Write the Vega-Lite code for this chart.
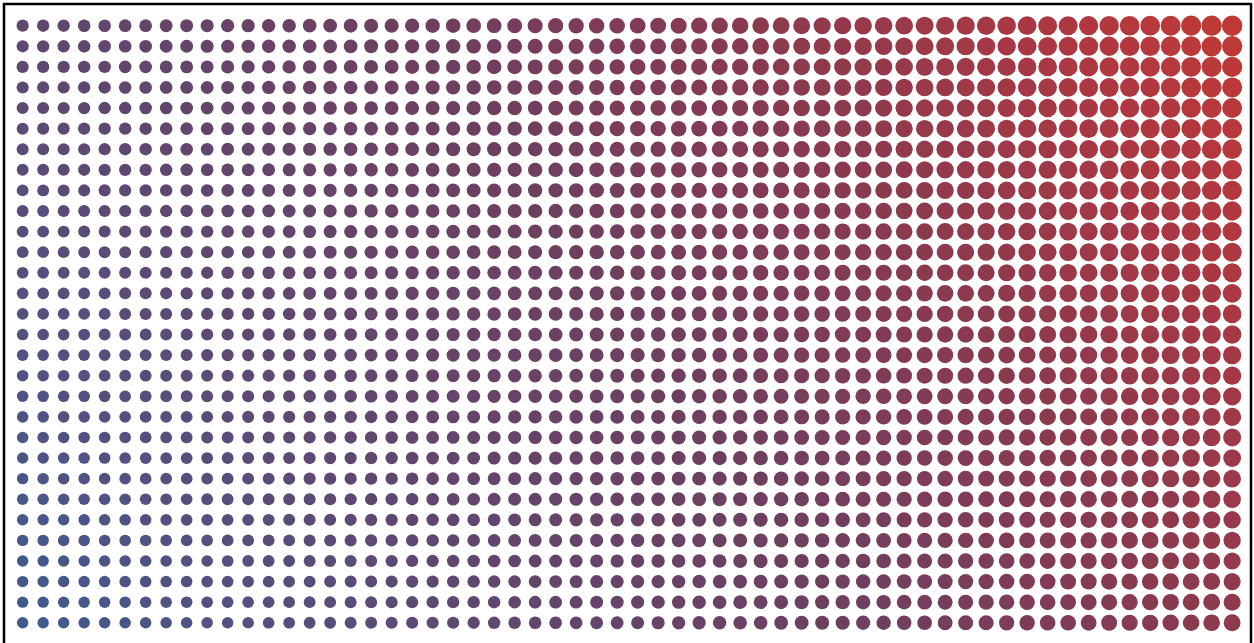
{
"$schema": "https://vega.github.io/schema/vega-lite/v6.json",
"width": 1247,
"height": 644,
"padding": {"left": 4, "top": 4, "right": 3, "bottom": 0},
"autosize": {"type": "none"},
"background": "white",
"config": {"view": {"stroke": "black", "strokeWidth": 2.5}},
"data": {"values": [
{"i":0,"j":0,"u":0},{"i":1,"j":0,"u":4},{"i":2,"j":0,"u":8},{"i":3,"j":0,"u":12},{"i":4,"j":0,"u":16},{"i":5,"j":0,"u":20},{"i":6,"j":0,"u":24},{"i":7,"j":0,"u":28},{"i":8,"j":0,"u":32},{"i":9,"j":0,"u":36},{"i":10,"j":0,"u":40},{"i":11,"j":0,"u":44},{"i":12,"j":0,"u":48},{"i":13,"j":0,"u":52},{"i":14,"j":0,"u":56},{"i":15,"j":0,"u":60},{"i":16,"j":0,"u":64},{"i":17,"j":0,"u":68},{"i":18,"j":0,"u":72},{"i":19,"j":0,"u":76},{"i":20,"j":0,"u":80},{"i":21,"j":0,"u":84},{"i":22,"j":0,"u":88},{"i":23,"j":0,"u":92},{"i":24,"j":0,"u":96},{"i":25,"j":0,"u":100},{"i":26,"j":0,"u":104},{"i":27,"j":0,"u":108},{"i":28,"j":0,"u":112},{"i":29,"j":0,"u":116},{"i":30,"j":0,"u":120},{"i":31,"j":0,"u":124},{"i":32,"j":0,"u":128},{"i":33,"j":0,"u":132},{"i":34,"j":0,"u":136},{"i":35,"j":0,"u":140},{"i":36,"j":0,"u":144},{"i":37,"j":0,"u":148},{"i":38,"j":0,"u":152},{"i":39,"j":0,"u":156},{"i":40,"j":0,"u":160},{"i":41,"j":0,"u":164},{"i":42,"j":0,"u":168},{"i":43,"j":0,"u":172},{"i":44,"j":0,"u":176},{"i":45,"j":0,"u":180},{"i":46,"j":0,"u":184},{"i":47,"j":0,"u":188},{"i":48,"j":0,"u":192},{"i":49,"j":0,"u":196},{"i":50,"j":0,"u":200},{"i":51,"j":0,"u":204},{"i":52,"j":0,"u":208},{"i":53,"j":0,"u":212},{"i":54,"j":0,"u":216},{"i":55,"j":0,"u":220},{"i":56,"j":0,"u":224},{"i":57,"j":0,"u":228},{"i":58,"j":0,"u":232},{"i":59,"j":0,"u":236},
{"i":0,"j":1,"u":3},{"i":1,"j":1,"u":7},{"i":2,"j":1,"u":11},{"i":3,"j":1,"u":15},{"i":4,"j":1,"u":19},{"i":5,"j":1,"u":23},{"i":6,"j":1,"u":27},{"i":7,"j":1,"u":31},{"i":8,"j":1,"u":35},{"i":9,"j":1,"u":39},{"i":10,"j":1,"u":43},{"i":11,"j":1,"u":47},{"i":12,"j":1,"u":51},{"i":13,"j":1,"u":55},{"i":14,"j":1,"u":59},{"i":15,"j":1,"u":63},{"i":16,"j":1,"u":67},{"i":17,"j":1,"u":71},{"i":18,"j":1,"u":75},{"i":19,"j":1,"u":79},{"i":20,"j":1,"u":83},{"i":21,"j":1,"u":87},{"i":22,"j":1,"u":91},{"i":23,"j":1,"u":95},{"i":24,"j":1,"u":99},{"i":25,"j":1,"u":103},{"i":26,"j":1,"u":107},{"i":27,"j":1,"u":111},{"i":28,"j":1,"u":115},{"i":29,"j":1,"u":119},{"i":30,"j":1,"u":123},{"i":31,"j":1,"u":127},{"i":32,"j":1,"u":131},{"i":33,"j":1,"u":135},{"i":34,"j":1,"u":139},{"i":35,"j":1,"u":143},{"i":36,"j":1,"u":147},{"i":37,"j":1,"u":151},{"i":38,"j":1,"u":155},{"i":39,"j":1,"u":159},{"i":40,"j":1,"u":163},{"i":41,"j":1,"u":167},{"i":42,"j":1,"u":171},{"i":43,"j":1,"u":175},{"i":44,"j":1,"u":179},{"i":45,"j":1,"u":183},{"i":46,"j":1,"u":187},{"i":47,"j":1,"u":191},{"i":48,"j":1,"u":195},{"i":49,"j":1,"u":199},{"i":50,"j":1,"u":203},{"i":51,"j":1,"u":207},{"i":52,"j":1,"u":211},{"i":53,"j":1,"u":215},{"i":54,"j":1,"u":219},{"i":55,"j":1,"u":223},{"i":56,"j":1,"u":227},{"i":57,"j":1,"u":231},{"i":58,"j":1,"u":235},{"i":59,"j":1,"u":239},
{"i":0,"j":2,"u":6},{"i":1,"j":2,"u":10},{"i":2,"j":2,"u":14},{"i":3,"j":2,"u":18},{"i":4,"j":2,"u":22},{"i":5,"j":2,"u":26},{"i":6,"j":2,"u":30},{"i":7,"j":2,"u":34},{"i":8,"j":2,"u":38},{"i":9,"j":2,"u":42},{"i":10,"j":2,"u":46},{"i":11,"j":2,"u":50},{"i":12,"j":2,"u":54},{"i":13,"j":2,"u":58},{"i":14,"j":2,"u":62},{"i":15,"j":2,"u":66},{"i":16,"j":2,"u":70},{"i":17,"j":2,"u":74},{"i":18,"j":2,"u":78},{"i":19,"j":2,"u":82},{"i":20,"j":2,"u":86},{"i":21,"j":2,"u":90},{"i":22,"j":2,"u":94},{"i":23,"j":2,"u":98},{"i":24,"j":2,"u":102},{"i":25,"j":2,"u":106},{"i":26,"j":2,"u":110},{"i":27,"j":2,"u":114},{"i":28,"j":2,"u":118},{"i":29,"j":2,"u":122},{"i":30,"j":2,"u":126},{"i":31,"j":2,"u":130},{"i":32,"j":2,"u":134},{"i":33,"j":2,"u":138},{"i":34,"j":2,"u":142},{"i":35,"j":2,"u":146},{"i":36,"j":2,"u":150},{"i":37,"j":2,"u":154},{"i":38,"j":2,"u":158},{"i":39,"j":2,"u":162},{"i":40,"j":2,"u":166},{"i":41,"j":2,"u":170},{"i":42,"j":2,"u":174},{"i":43,"j":2,"u":178},{"i":44,"j":2,"u":182},{"i":45,"j":2,"u":186},{"i":46,"j":2,"u":190},{"i":47,"j":2,"u":194},{"i":48,"j":2,"u":198},{"i":49,"j":2,"u":202},{"i":50,"j":2,"u":206},{"i":51,"j":2,"u":210},{"i":52,"j":2,"u":214},{"i":53,"j":2,"u":218},{"i":54,"j":2,"u":222},{"i":55,"j":2,"u":226},{"i":56,"j":2,"u":230},{"i":57,"j":2,"u":234},{"i":58,"j":2,"u":238},{"i":59,"j":2,"u":242},
{"i":0,"j":3,"u":9},{"i":1,"j":3,"u":13},{"i":2,"j":3,"u":17},{"i":3,"j":3,"u":21},{"i":4,"j":3,"u":25},{"i":5,"j":3,"u":29},{"i":6,"j":3,"u":33},{"i":7,"j":3,"u":37},{"i":8,"j":3,"u":41},{"i":9,"j":3,"u":45},{"i":10,"j":3,"u":49},{"i":11,"j":3,"u":53},{"i":12,"j":3,"u":57},{"i":13,"j":3,"u":61},{"i":14,"j":3,"u":65},{"i":15,"j":3,"u":69},{"i":16,"j":3,"u":73},{"i":17,"j":3,"u":77},{"i":18,"j":3,"u":81},{"i":19,"j":3,"u":85},{"i":20,"j":3,"u":89},{"i":21,"j":3,"u":93},{"i":22,"j":3,"u":97},{"i":23,"j":3,"u":101},{"i":24,"j":3,"u":105},{"i":25,"j":3,"u":109},{"i":26,"j":3,"u":113},{"i":27,"j":3,"u":117},{"i":28,"j":3,"u":121},{"i":29,"j":3,"u":125},{"i":30,"j":3,"u":129},{"i":31,"j":3,"u":133},{"i":32,"j":3,"u":137},{"i":33,"j":3,"u":141},{"i":34,"j":3,"u":145},{"i":35,"j":3,"u":149},{"i":36,"j":3,"u":153},{"i":37,"j":3,"u":157},{"i":38,"j":3,"u":161},{"i":39,"j":3,"u":165},{"i":40,"j":3,"u":169},{"i":41,"j":3,"u":173},{"i":42,"j":3,"u":177},{"i":43,"j":3,"u":181},{"i":44,"j":3,"u":185},{"i":45,"j":3,"u":189},{"i":46,"j":3,"u":193},{"i":47,"j":3,"u":197},{"i":48,"j":3,"u":201},{"i":49,"j":3,"u":205},{"i":50,"j":3,"u":209},{"i":51,"j":3,"u":213},{"i":52,"j":3,"u":217},{"i":53,"j":3,"u":221},{"i":54,"j":3,"u":225},{"i":55,"j":3,"u":229},{"i":56,"j":3,"u":233},{"i":57,"j":3,"u":237},{"i":58,"j":3,"u":241},{"i":59,"j":3,"u":245},
{"i":0,"j":4,"u":12},{"i":1,"j":4,"u":16},{"i":2,"j":4,"u":20},{"i":3,"j":4,"u":24},{"i":4,"j":4,"u":28},{"i":5,"j":4,"u":32},{"i":6,"j":4,"u":36},{"i":7,"j":4,"u":40},{"i":8,"j":4,"u":44},{"i":9,"j":4,"u":48},{"i":10,"j":4,"u":52},{"i":11,"j":4,"u":56},{"i":12,"j":4,"u":60},{"i":13,"j":4,"u":64},{"i":14,"j":4,"u":68},{"i":15,"j":4,"u":72},{"i":16,"j":4,"u":76},{"i":17,"j":4,"u":80},{"i":18,"j":4,"u":84},{"i":19,"j":4,"u":88},{"i":20,"j":4,"u":92},{"i":21,"j":4,"u":96},{"i":22,"j":4,"u":100},{"i":23,"j":4,"u":104},{"i":24,"j":4,"u":108},{"i":25,"j":4,"u":112},{"i":26,"j":4,"u":116},{"i":27,"j":4,"u":120},{"i":28,"j":4,"u":124},{"i":29,"j":4,"u":128},{"i":30,"j":4,"u":132},{"i":31,"j":4,"u":136},{"i":32,"j":4,"u":140},{"i":33,"j":4,"u":144},{"i":34,"j":4,"u":148},{"i":35,"j":4,"u":152},{"i":36,"j":4,"u":156},{"i":37,"j":4,"u":160},{"i":38,"j":4,"u":164},{"i":39,"j":4,"u":168},{"i":40,"j":4,"u":172},{"i":41,"j":4,"u":176},{"i":42,"j":4,"u":180},{"i":43,"j":4,"u":184},{"i":44,"j":4,"u":188},{"i":45,"j":4,"u":192},{"i":46,"j":4,"u":196},{"i":47,"j":4,"u":200},{"i":48,"j":4,"u":204},{"i":49,"j":4,"u":208},{"i":50,"j":4,"u":212},{"i":51,"j":4,"u":216},{"i":52,"j":4,"u":220},{"i":53,"j":4,"u":224},{"i":54,"j":4,"u":228},{"i":55,"j":4,"u":232},{"i":56,"j":4,"u":236},{"i":57,"j":4,"u":240},{"i":58,"j":4,"u":244},{"i":59,"j":4,"u":248},
{"i":0,"j":5,"u":15},{"i":1,"j":5,"u":19},{"i":2,"j":5,"u":23},{"i":3,"j":5,"u":27},{"i":4,"j":5,"u":31},{"i":5,"j":5,"u":35},{"i":6,"j":5,"u":39},{"i":7,"j":5,"u":43},{"i":8,"j":5,"u":47},{"i":9,"j":5,"u":51},{"i":10,"j":5,"u":55},{"i":11,"j":5,"u":59},{"i":12,"j":5,"u":63},{"i":13,"j":5,"u":67},{"i":14,"j":5,"u":71},{"i":15,"j":5,"u":75},{"i":16,"j":5,"u":79},{"i":17,"j":5,"u":83},{"i":18,"j":5,"u":87},{"i":19,"j":5,"u":91},{"i":20,"j":5,"u":95},{"i":21,"j":5,"u":99},{"i":22,"j":5,"u":103},{"i":23,"j":5,"u":107},{"i":24,"j":5,"u":111},{"i":25,"j":5,"u":115},{"i":26,"j":5,"u":119},{"i":27,"j":5,"u":123},{"i":28,"j":5,"u":127},{"i":29,"j":5,"u":131},{"i":30,"j":5,"u":135},{"i":31,"j":5,"u":139},{"i":32,"j":5,"u":143},{"i":33,"j":5,"u":147},{"i":34,"j":5,"u":151},{"i":35,"j":5,"u":155},{"i":36,"j":5,"u":159},{"i":37,"j":5,"u":163},{"i":38,"j":5,"u":167},{"i":39,"j":5,"u":171},{"i":40,"j":5,"u":175},{"i":41,"j":5,"u":179},{"i":42,"j":5,"u":183},{"i":43,"j":5,"u":187},{"i":44,"j":5,"u":191},{"i":45,"j":5,"u":195},{"i":46,"j":5,"u":199},{"i":47,"j":5,"u":203},{"i":48,"j":5,"u":207},{"i":49,"j":5,"u":211},{"i":50,"j":5,"u":215},{"i":51,"j":5,"u":219},{"i":52,"j":5,"u":223},{"i":53,"j":5,"u":227},{"i":54,"j":5,"u":231},{"i":55,"j":5,"u":235},{"i":56,"j":5,"u":239},{"i":57,"j":5,"u":243},{"i":58,"j":5,"u":247},{"i":59,"j":5,"u":251},
{"i":0,"j":6,"u":18},{"i":1,"j":6,"u":22},{"i":2,"j":6,"u":26},{"i":3,"j":6,"u":30},{"i":4,"j":6,"u":34},{"i":5,"j":6,"u":38},{"i":6,"j":6,"u":42},{"i":7,"j":6,"u":46},{"i":8,"j":6,"u":50},{"i":9,"j":6,"u":54},{"i":10,"j":6,"u":58},{"i":11,"j":6,"u":62},{"i":12,"j":6,"u":66},{"i":13,"j":6,"u":70},{"i":14,"j":6,"u":74},{"i":15,"j":6,"u":78},{"i":16,"j":6,"u":82},{"i":17,"j":6,"u":86},{"i":18,"j":6,"u":90},{"i":19,"j":6,"u":94},{"i":20,"j":6,"u":98},{"i":21,"j":6,"u":102},{"i":22,"j":6,"u":106},{"i":23,"j":6,"u":110},{"i":24,"j":6,"u":114},{"i":25,"j":6,"u":118},{"i":26,"j":6,"u":122},{"i":27,"j":6,"u":126},{"i":28,"j":6,"u":130},{"i":29,"j":6,"u":134},{"i":30,"j":6,"u":138},{"i":31,"j":6,"u":142},{"i":32,"j":6,"u":146},{"i":33,"j":6,"u":150},{"i":34,"j":6,"u":154},{"i":35,"j":6,"u":158},{"i":36,"j":6,"u":162},{"i":37,"j":6,"u":166},{"i":38,"j":6,"u":170},{"i":39,"j":6,"u":174},{"i":40,"j":6,"u":178},{"i":41,"j":6,"u":182},{"i":42,"j":6,"u":186},{"i":43,"j":6,"u":190},{"i":44,"j":6,"u":194},{"i":45,"j":6,"u":198},{"i":46,"j":6,"u":202},{"i":47,"j":6,"u":206},{"i":48,"j":6,"u":210},{"i":49,"j":6,"u":214},{"i":50,"j":6,"u":218},{"i":51,"j":6,"u":222},{"i":52,"j":6,"u":226},{"i":53,"j":6,"u":230},{"i":54,"j":6,"u":234},{"i":55,"j":6,"u":238},{"i":56,"j":6,"u":242},{"i":57,"j":6,"u":246},{"i":58,"j":6,"u":250},{"i":59,"j":6,"u":254},
{"i":0,"j":7,"u":21},{"i":1,"j":7,"u":25},{"i":2,"j":7,"u":29},{"i":3,"j":7,"u":33},{"i":4,"j":7,"u":37},{"i":5,"j":7,"u":41},{"i":6,"j":7,"u":45},{"i":7,"j":7,"u":49},{"i":8,"j":7,"u":53},{"i":9,"j":7,"u":57},{"i":10,"j":7,"u":61},{"i":11,"j":7,"u":65},{"i":12,"j":7,"u":69},{"i":13,"j":7,"u":73},{"i":14,"j":7,"u":77},{"i":15,"j":7,"u":81},{"i":16,"j":7,"u":85},{"i":17,"j":7,"u":89},{"i":18,"j":7,"u":93},{"i":19,"j":7,"u":97},{"i":20,"j":7,"u":101},{"i":21,"j":7,"u":105},{"i":22,"j":7,"u":109},{"i":23,"j":7,"u":113},{"i":24,"j":7,"u":117},{"i":25,"j":7,"u":121},{"i":26,"j":7,"u":125},{"i":27,"j":7,"u":129},{"i":28,"j":7,"u":133},{"i":29,"j":7,"u":137},{"i":30,"j":7,"u":141},{"i":31,"j":7,"u":145},{"i":32,"j":7,"u":149},{"i":33,"j":7,"u":153},{"i":34,"j":7,"u":157},{"i":35,"j":7,"u":161},{"i":36,"j":7,"u":165},{"i":37,"j":7,"u":169},{"i":38,"j":7,"u":173},{"i":39,"j":7,"u":177},{"i":40,"j":7,"u":181},{"i":41,"j":7,"u":185},{"i":42,"j":7,"u":189},{"i":43,"j":7,"u":193},{"i":44,"j":7,"u":197},{"i":45,"j":7,"u":201},{"i":46,"j":7,"u":205},{"i":47,"j":7,"u":209},{"i":48,"j":7,"u":213},{"i":49,"j":7,"u":217},{"i":50,"j":7,"u":221},{"i":51,"j":7,"u":225},{"i":52,"j":7,"u":229},{"i":53,"j":7,"u":233},{"i":54,"j":7,"u":237},{"i":55,"j":7,"u":241},{"i":56,"j":7,"u":245},{"i":57,"j":7,"u":249},{"i":58,"j":7,"u":253},{"i":59,"j":7,"u":257},
{"i":0,"j":8,"u":24},{"i":1,"j":8,"u":28},{"i":2,"j":8,"u":32},{"i":3,"j":8,"u":36},{"i":4,"j":8,"u":40},{"i":5,"j":8,"u":44},{"i":6,"j":8,"u":48},{"i":7,"j":8,"u":52},{"i":8,"j":8,"u":56},{"i":9,"j":8,"u":60},{"i":10,"j":8,"u":64},{"i":11,"j":8,"u":68},{"i":12,"j":8,"u":72},{"i":13,"j":8,"u":76},{"i":14,"j":8,"u":80},{"i":15,"j":8,"u":84},{"i":16,"j":8,"u":88},{"i":17,"j":8,"u":92},{"i":18,"j":8,"u":96},{"i":19,"j":8,"u":100},{"i":20,"j":8,"u":104},{"i":21,"j":8,"u":108},{"i":22,"j":8,"u":112},{"i":23,"j":8,"u":116},{"i":24,"j":8,"u":120},{"i":25,"j":8,"u":124},{"i":26,"j":8,"u":128},{"i":27,"j":8,"u":132},{"i":28,"j":8,"u":136},{"i":29,"j":8,"u":140},{"i":30,"j":8,"u":144},{"i":31,"j":8,"u":148},{"i":32,"j":8,"u":152},{"i":33,"j":8,"u":156},{"i":34,"j":8,"u":160},{"i":35,"j":8,"u":164},{"i":36,"j":8,"u":168},{"i":37,"j":8,"u":172},{"i":38,"j":8,"u":176},{"i":39,"j":8,"u":180},{"i":40,"j":8,"u":184},{"i":41,"j":8,"u":188},{"i":42,"j":8,"u":192},{"i":43,"j":8,"u":196},{"i":44,"j":8,"u":200},{"i":45,"j":8,"u":204},{"i":46,"j":8,"u":208},{"i":47,"j":8,"u":212},{"i":48,"j":8,"u":216},{"i":49,"j":8,"u":220},{"i":50,"j":8,"u":224},{"i":51,"j":8,"u":228},{"i":52,"j":8,"u":232},{"i":53,"j":8,"u":236},{"i":54,"j":8,"u":240},{"i":55,"j":8,"u":244},{"i":56,"j":8,"u":248},{"i":57,"j":8,"u":252},{"i":58,"j":8,"u":256},{"i":59,"j":8,"u":260},
{"i":0,"j":9,"u":27},{"i":1,"j":9,"u":31},{"i":2,"j":9,"u":35},{"i":3,"j":9,"u":39},{"i":4,"j":9,"u":43},{"i":5,"j":9,"u":47},{"i":6,"j":9,"u":51},{"i":7,"j":9,"u":55},{"i":8,"j":9,"u":59},{"i":9,"j":9,"u":63},{"i":10,"j":9,"u":67},{"i":11,"j":9,"u":71},{"i":12,"j":9,"u":75},{"i":13,"j":9,"u":79},{"i":14,"j":9,"u":83},{"i":15,"j":9,"u":87},{"i":16,"j":9,"u":91},{"i":17,"j":9,"u":95},{"i":18,"j":9,"u":99},{"i":19,"j":9,"u":103},{"i":20,"j":9,"u":107},{"i":21,"j":9,"u":111},{"i":22,"j":9,"u":115},{"i":23,"j":9,"u":119},{"i":24,"j":9,"u":123},{"i":25,"j":9,"u":127},{"i":26,"j":9,"u":131},{"i":27,"j":9,"u":135},{"i":28,"j":9,"u":139},{"i":29,"j":9,"u":143},{"i":30,"j":9,"u":147},{"i":31,"j":9,"u":151},{"i":32,"j":9,"u":155},{"i":33,"j":9,"u":159},{"i":34,"j":9,"u":163},{"i":35,"j":9,"u":167},{"i":36,"j":9,"u":171},{"i":37,"j":9,"u":175},{"i":38,"j":9,"u":179},{"i":39,"j":9,"u":183},{"i":40,"j":9,"u":187},{"i":41,"j":9,"u":191},{"i":42,"j":9,"u":195},{"i":43,"j":9,"u":199},{"i":44,"j":9,"u":203},{"i":45,"j":9,"u":207},{"i":46,"j":9,"u":211},{"i":47,"j":9,"u":215},{"i":48,"j":9,"u":219},{"i":49,"j":9,"u":223},{"i":50,"j":9,"u":227},{"i":51,"j":9,"u":231},{"i":52,"j":9,"u":235},{"i":53,"j":9,"u":239},{"i":54,"j":9,"u":243},{"i":55,"j":9,"u":247},{"i":56,"j":9,"u":251},{"i":57,"j":9,"u":255},{"i":58,"j":9,"u":259},{"i":59,"j":9,"u":263},
{"i":0,"j":10,"u":30},{"i":1,"j":10,"u":34},{"i":2,"j":10,"u":38},{"i":3,"j":10,"u":42},{"i":4,"j":10,"u":46},{"i":5,"j":10,"u":50},{"i":6,"j":10,"u":54},{"i":7,"j":10,"u":58},{"i":8,"j":10,"u":62},{"i":9,"j":10,"u":66},{"i":10,"j":10,"u":70},{"i":11,"j":10,"u":74},{"i":12,"j":10,"u":78},{"i":13,"j":10,"u":82},{"i":14,"j":10,"u":86},{"i":15,"j":10,"u":90},{"i":16,"j":10,"u":94},{"i":17,"j":10,"u":98},{"i":18,"j":10,"u":102},{"i":19,"j":10,"u":106},{"i":20,"j":10,"u":110},{"i":21,"j":10,"u":114},{"i":22,"j":10,"u":118},{"i":23,"j":10,"u":122},{"i":24,"j":10,"u":126},{"i":25,"j":10,"u":130},{"i":26,"j":10,"u":134},{"i":27,"j":10,"u":138},{"i":28,"j":10,"u":142},{"i":29,"j":10,"u":146},{"i":30,"j":10,"u":150},{"i":31,"j":10,"u":154},{"i":32,"j":10,"u":158},{"i":33,"j":10,"u":162},{"i":34,"j":10,"u":166},{"i":35,"j":10,"u":170},{"i":36,"j":10,"u":174},{"i":37,"j":10,"u":178},{"i":38,"j":10,"u":182},{"i":39,"j":10,"u":186},{"i":40,"j":10,"u":190},{"i":41,"j":10,"u":194},{"i":42,"j":10,"u":198},{"i":43,"j":10,"u":202},{"i":44,"j":10,"u":206},{"i":45,"j":10,"u":210},{"i":46,"j":10,"u":214},{"i":47,"j":10,"u":218},{"i":48,"j":10,"u":222},{"i":49,"j":10,"u":226},{"i":50,"j":10,"u":230},{"i":51,"j":10,"u":234},{"i":52,"j":10,"u":238},{"i":53,"j":10,"u":242},{"i":54,"j":10,"u":246},{"i":55,"j":10,"u":250},{"i":56,"j":10,"u":254},{"i":57,"j":10,"u":258},{"i":58,"j":10,"u":262},{"i":59,"j":10,"u":266},
{"i":0,"j":11,"u":33},{"i":1,"j":11,"u":37},{"i":2,"j":11,"u":41},{"i":3,"j":11,"u":45},{"i":4,"j":11,"u":49},{"i":5,"j":11,"u":53},{"i":6,"j":11,"u":57},{"i":7,"j":11,"u":61},{"i":8,"j":11,"u":65},{"i":9,"j":11,"u":69},{"i":10,"j":11,"u":73},{"i":11,"j":11,"u":77},{"i":12,"j":11,"u":81},{"i":13,"j":11,"u":85},{"i":14,"j":11,"u":89},{"i":15,"j":11,"u":93},{"i":16,"j":11,"u":97},{"i":17,"j":11,"u":101},{"i":18,"j":11,"u":105},{"i":19,"j":11,"u":109},{"i":20,"j":11,"u":113},{"i":21,"j":11,"u":117},{"i":22,"j":11,"u":121},{"i":23,"j":11,"u":125},{"i":24,"j":11,"u":129},{"i":25,"j":11,"u":133},{"i":26,"j":11,"u":137},{"i":27,"j":11,"u":141},{"i":28,"j":11,"u":145},{"i":29,"j":11,"u":149},{"i":30,"j":11,"u":153},{"i":31,"j":11,"u":157},{"i":32,"j":11,"u":161},{"i":33,"j":11,"u":165},{"i":34,"j":11,"u":169},{"i":35,"j":11,"u":173},{"i":36,"j":11,"u":177},{"i":37,"j":11,"u":181},{"i":38,"j":11,"u":185},{"i":39,"j":11,"u":189},{"i":40,"j":11,"u":193},{"i":41,"j":11,"u":197},{"i":42,"j":11,"u":201},{"i":43,"j":11,"u":205},{"i":44,"j":11,"u":209},{"i":45,"j":11,"u":213},{"i":46,"j":11,"u":217},{"i":47,"j":11,"u":221},{"i":48,"j":11,"u":225},{"i":49,"j":11,"u":229},{"i":50,"j":11,"u":233},{"i":51,"j":11,"u":237},{"i":52,"j":11,"u":241},{"i":53,"j":11,"u":245},{"i":54,"j":11,"u":249},{"i":55,"j":11,"u":253},{"i":56,"j":11,"u":257},{"i":57,"j":11,"u":261},{"i":58,"j":11,"u":265},{"i":59,"j":11,"u":269},
{"i":0,"j":12,"u":36},{"i":1,"j":12,"u":40},{"i":2,"j":12,"u":44},{"i":3,"j":12,"u":48},{"i":4,"j":12,"u":52},{"i":5,"j":12,"u":56},{"i":6,"j":12,"u":60},{"i":7,"j":12,"u":64},{"i":8,"j":12,"u":68},{"i":9,"j":12,"u":72},{"i":10,"j":12,"u":76},{"i":11,"j":12,"u":80},{"i":12,"j":12,"u":84},{"i":13,"j":12,"u":88},{"i":14,"j":12,"u":92},{"i":15,"j":12,"u":96},{"i":16,"j":12,"u":100},{"i":17,"j":12,"u":104},{"i":18,"j":12,"u":108},{"i":19,"j":12,"u":112},{"i":20,"j":12,"u":116},{"i":21,"j":12,"u":120},{"i":22,"j":12,"u":124},{"i":23,"j":12,"u":128},{"i":24,"j":12,"u":132},{"i":25,"j":12,"u":136},{"i":26,"j":12,"u":140},{"i":27,"j":12,"u":144},{"i":28,"j":12,"u":148},{"i":29,"j":12,"u":152},{"i":30,"j":12,"u":156},{"i":31,"j":12,"u":160},{"i":32,"j":12,"u":164},{"i":33,"j":12,"u":168},{"i":34,"j":12,"u":172},{"i":35,"j":12,"u":176},{"i":36,"j":12,"u":180},{"i":37,"j":12,"u":184},{"i":38,"j":12,"u":188},{"i":39,"j":12,"u":192},{"i":40,"j":12,"u":196},{"i":41,"j":12,"u":200},{"i":42,"j":12,"u":204},{"i":43,"j":12,"u":208},{"i":44,"j":12,"u":212},{"i":45,"j":12,"u":216},{"i":46,"j":12,"u":220},{"i":47,"j":12,"u":224},{"i":48,"j":12,"u":228},{"i":49,"j":12,"u":232},{"i":50,"j":12,"u":236},{"i":51,"j":12,"u":240},{"i":52,"j":12,"u":244},{"i":53,"j":12,"u":248},{"i":54,"j":12,"u":252},{"i":55,"j":12,"u":256},{"i":56,"j":12,"u":260},{"i":57,"j":12,"u":264},{"i":58,"j":12,"u":268},{"i":59,"j":12,"u":272},
{"i":0,"j":13,"u":39},{"i":1,"j":13,"u":43},{"i":2,"j":13,"u":47},{"i":3,"j":13,"u":51},{"i":4,"j":13,"u":55},{"i":5,"j":13,"u":59},{"i":6,"j":13,"u":63},{"i":7,"j":13,"u":67},{"i":8,"j":13,"u":71},{"i":9,"j":13,"u":75},{"i":10,"j":13,"u":79},{"i":11,"j":13,"u":83},{"i":12,"j":13,"u":87},{"i":13,"j":13,"u":91},{"i":14,"j":13,"u":95},{"i":15,"j":13,"u":99},{"i":16,"j":13,"u":103},{"i":17,"j":13,"u":107},{"i":18,"j":13,"u":111},{"i":19,"j":13,"u":115},{"i":20,"j":13,"u":119},{"i":21,"j":13,"u":123},{"i":22,"j":13,"u":127},{"i":23,"j":13,"u":131},{"i":24,"j":13,"u":135},{"i":25,"j":13,"u":139},{"i":26,"j":13,"u":143},{"i":27,"j":13,"u":147},{"i":28,"j":13,"u":151},{"i":29,"j":13,"u":155},{"i":30,"j":13,"u":159},{"i":31,"j":13,"u":163},{"i":32,"j":13,"u":167},{"i":33,"j":13,"u":171},{"i":34,"j":13,"u":175},{"i":35,"j":13,"u":179},{"i":36,"j":13,"u":183},{"i":37,"j":13,"u":187},{"i":38,"j":13,"u":191},{"i":39,"j":13,"u":195},{"i":40,"j":13,"u":199},{"i":41,"j":13,"u":203},{"i":42,"j":13,"u":207},{"i":43,"j":13,"u":211},{"i":44,"j":13,"u":215},{"i":45,"j":13,"u":219},{"i":46,"j":13,"u":223},{"i":47,"j":13,"u":227},{"i":48,"j":13,"u":231},{"i":49,"j":13,"u":235},{"i":50,"j":13,"u":239},{"i":51,"j":13,"u":243},{"i":52,"j":13,"u":247},{"i":53,"j":13,"u":251},{"i":54,"j":13,"u":255},{"i":55,"j":13,"u":259},{"i":56,"j":13,"u":263},{"i":57,"j":13,"u":267},{"i":58,"j":13,"u":271},{"i":59,"j":13,"u":275},
{"i":0,"j":14,"u":42},{"i":1,"j":14,"u":46},{"i":2,"j":14,"u":50},{"i":3,"j":14,"u":54},{"i":4,"j":14,"u":58},{"i":5,"j":14,"u":62},{"i":6,"j":14,"u":66},{"i":7,"j":14,"u":70},{"i":8,"j":14,"u":74},{"i":9,"j":14,"u":78},{"i":10,"j":14,"u":82},{"i":11,"j":14,"u":86},{"i":12,"j":14,"u":90},{"i":13,"j":14,"u":94},{"i":14,"j":14,"u":98},{"i":15,"j":14,"u":102},{"i":16,"j":14,"u":106},{"i":17,"j":14,"u":110},{"i":18,"j":14,"u":114},{"i":19,"j":14,"u":118},{"i":20,"j":14,"u":122},{"i":21,"j":14,"u":126},{"i":22,"j":14,"u":130},{"i":23,"j":14,"u":134},{"i":24,"j":14,"u":138},{"i":25,"j":14,"u":142},{"i":26,"j":14,"u":146},{"i":27,"j":14,"u":150},{"i":28,"j":14,"u":154},{"i":29,"j":14,"u":158},{"i":30,"j":14,"u":162},{"i":31,"j":14,"u":166},{"i":32,"j":14,"u":170},{"i":33,"j":14,"u":174},{"i":34,"j":14,"u":178},{"i":35,"j":14,"u":182},{"i":36,"j":14,"u":186},{"i":37,"j":14,"u":190},{"i":38,"j":14,"u":194},{"i":39,"j":14,"u":198},{"i":40,"j":14,"u":202},{"i":41,"j":14,"u":206},{"i":42,"j":14,"u":210},{"i":43,"j":14,"u":214},{"i":44,"j":14,"u":218},{"i":45,"j":14,"u":222},{"i":46,"j":14,"u":226},{"i":47,"j":14,"u":230},{"i":48,"j":14,"u":234},{"i":49,"j":14,"u":238},{"i":50,"j":14,"u":242},{"i":51,"j":14,"u":246},{"i":52,"j":14,"u":250},{"i":53,"j":14,"u":254},{"i":54,"j":14,"u":258},{"i":55,"j":14,"u":262},{"i":56,"j":14,"u":266},{"i":57,"j":14,"u":270},{"i":58,"j":14,"u":274},{"i":59,"j":14,"u":278},
{"i":0,"j":15,"u":45},{"i":1,"j":15,"u":49},{"i":2,"j":15,"u":53},{"i":3,"j":15,"u":57},{"i":4,"j":15,"u":61},{"i":5,"j":15,"u":65},{"i":6,"j":15,"u":69},{"i":7,"j":15,"u":73},{"i":8,"j":15,"u":77},{"i":9,"j":15,"u":81},{"i":10,"j":15,"u":85},{"i":11,"j":15,"u":89},{"i":12,"j":15,"u":93},{"i":13,"j":15,"u":97},{"i":14,"j":15,"u":101},{"i":15,"j":15,"u":105},{"i":16,"j":15,"u":109},{"i":17,"j":15,"u":113},{"i":18,"j":15,"u":117},{"i":19,"j":15,"u":121},{"i":20,"j":15,"u":125},{"i":21,"j":15,"u":129},{"i":22,"j":15,"u":133},{"i":23,"j":15,"u":137},{"i":24,"j":15,"u":141},{"i":25,"j":15,"u":145},{"i":26,"j":15,"u":149},{"i":27,"j":15,"u":153},{"i":28,"j":15,"u":157},{"i":29,"j":15,"u":161},{"i":30,"j":15,"u":165},{"i":31,"j":15,"u":169},{"i":32,"j":15,"u":173},{"i":33,"j":15,"u":177},{"i":34,"j":15,"u":181},{"i":35,"j":15,"u":185},{"i":36,"j":15,"u":189},{"i":37,"j":15,"u":193},{"i":38,"j":15,"u":197},{"i":39,"j":15,"u":201},{"i":40,"j":15,"u":205},{"i":41,"j":15,"u":209},{"i":42,"j":15,"u":213},{"i":43,"j":15,"u":217},{"i":44,"j":15,"u":221},{"i":45,"j":15,"u":225},{"i":46,"j":15,"u":229},{"i":47,"j":15,"u":233},{"i":48,"j":15,"u":237},{"i":49,"j":15,"u":241},{"i":50,"j":15,"u":245},{"i":51,"j":15,"u":249},{"i":52,"j":15,"u":253},{"i":53,"j":15,"u":257},{"i":54,"j":15,"u":261},{"i":55,"j":15,"u":265},{"i":56,"j":15,"u":269},{"i":57,"j":15,"u":273},{"i":58,"j":15,"u":277},{"i":59,"j":15,"u":281},
{"i":0,"j":16,"u":48},{"i":1,"j":16,"u":52},{"i":2,"j":16,"u":56},{"i":3,"j":16,"u":60},{"i":4,"j":16,"u":64},{"i":5,"j":16,"u":68},{"i":6,"j":16,"u":72},{"i":7,"j":16,"u":76},{"i":8,"j":16,"u":80},{"i":9,"j":16,"u":84},{"i":10,"j":16,"u":88},{"i":11,"j":16,"u":92},{"i":12,"j":16,"u":96},{"i":13,"j":16,"u":100},{"i":14,"j":16,"u":104},{"i":15,"j":16,"u":108},{"i":16,"j":16,"u":112},{"i":17,"j":16,"u":116},{"i":18,"j":16,"u":120},{"i":19,"j":16,"u":124},{"i":20,"j":16,"u":128},{"i":21,"j":16,"u":132},{"i":22,"j":16,"u":136},{"i":23,"j":16,"u":140},{"i":24,"j":16,"u":144},{"i":25,"j":16,"u":148},{"i":26,"j":16,"u":152},{"i":27,"j":16,"u":156},{"i":28,"j":16,"u":160},{"i":29,"j":16,"u":164},{"i":30,"j":16,"u":168},{"i":31,"j":16,"u":172},{"i":32,"j":16,"u":176},{"i":33,"j":16,"u":180},{"i":34,"j":16,"u":184},{"i":35,"j":16,"u":188},{"i":36,"j":16,"u":192},{"i":37,"j":16,"u":196},{"i":38,"j":16,"u":200},{"i":39,"j":16,"u":204},{"i":40,"j":16,"u":208},{"i":41,"j":16,"u":212},{"i":42,"j":16,"u":216},{"i":43,"j":16,"u":220},{"i":44,"j":16,"u":224},{"i":45,"j":16,"u":228},{"i":46,"j":16,"u":232},{"i":47,"j":16,"u":236},{"i":48,"j":16,"u":240},{"i":49,"j":16,"u":244},{"i":50,"j":16,"u":248},{"i":51,"j":16,"u":252},{"i":52,"j":16,"u":256},{"i":53,"j":16,"u":260},{"i":54,"j":16,"u":264},{"i":55,"j":16,"u":268},{"i":56,"j":16,"u":272},{"i":57,"j":16,"u":276},{"i":58,"j":16,"u":280},{"i":59,"j":16,"u":284},
{"i":0,"j":17,"u":51},{"i":1,"j":17,"u":55},{"i":2,"j":17,"u":59},{"i":3,"j":17,"u":63},{"i":4,"j":17,"u":67},{"i":5,"j":17,"u":71},{"i":6,"j":17,"u":75},{"i":7,"j":17,"u":79},{"i":8,"j":17,"u":83},{"i":9,"j":17,"u":87},{"i":10,"j":17,"u":91},{"i":11,"j":17,"u":95},{"i":12,"j":17,"u":99},{"i":13,"j":17,"u":103},{"i":14,"j":17,"u":107},{"i":15,"j":17,"u":111},{"i":16,"j":17,"u":115},{"i":17,"j":17,"u":119},{"i":18,"j":17,"u":123},{"i":19,"j":17,"u":127},{"i":20,"j":17,"u":131},{"i":21,"j":17,"u":135},{"i":22,"j":17,"u":139},{"i":23,"j":17,"u":143},{"i":24,"j":17,"u":147},{"i":25,"j":17,"u":151},{"i":26,"j":17,"u":155},{"i":27,"j":17,"u":159},{"i":28,"j":17,"u":163},{"i":29,"j":17,"u":167},{"i":30,"j":17,"u":171},{"i":31,"j":17,"u":175},{"i":32,"j":17,"u":179},{"i":33,"j":17,"u":183},{"i":34,"j":17,"u":187},{"i":35,"j":17,"u":191},{"i":36,"j":17,"u":195},{"i":37,"j":17,"u":199},{"i":38,"j":17,"u":203},{"i":39,"j":17,"u":207},{"i":40,"j":17,"u":211},{"i":41,"j":17,"u":215},{"i":42,"j":17,"u":219},{"i":43,"j":17,"u":223},{"i":44,"j":17,"u":227},{"i":45,"j":17,"u":231},{"i":46,"j":17,"u":235},{"i":47,"j":17,"u":239},{"i":48,"j":17,"u":243},{"i":49,"j":17,"u":247},{"i":50,"j":17,"u":251},{"i":51,"j":17,"u":255},{"i":52,"j":17,"u":259},{"i":53,"j":17,"u":263},{"i":54,"j":17,"u":267},{"i":55,"j":17,"u":271},{"i":56,"j":17,"u":275},{"i":57,"j":17,"u":279},{"i":58,"j":17,"u":283},{"i":59,"j":17,"u":287},
{"i":0,"j":18,"u":54},{"i":1,"j":18,"u":58},{"i":2,"j":18,"u":62},{"i":3,"j":18,"u":66},{"i":4,"j":18,"u":70},{"i":5,"j":18,"u":74},{"i":6,"j":18,"u":78},{"i":7,"j":18,"u":82},{"i":8,"j":18,"u":86},{"i":9,"j":18,"u":90},{"i":10,"j":18,"u":94},{"i":11,"j":18,"u":98},{"i":12,"j":18,"u":102},{"i":13,"j":18,"u":106},{"i":14,"j":18,"u":110},{"i":15,"j":18,"u":114},{"i":16,"j":18,"u":118},{"i":17,"j":18,"u":122},{"i":18,"j":18,"u":126},{"i":19,"j":18,"u":130},{"i":20,"j":18,"u":134},{"i":21,"j":18,"u":138},{"i":22,"j":18,"u":142},{"i":23,"j":18,"u":146},{"i":24,"j":18,"u":150},{"i":25,"j":18,"u":154},{"i":26,"j":18,"u":158},{"i":27,"j":18,"u":162},{"i":28,"j":18,"u":166},{"i":29,"j":18,"u":170},{"i":30,"j":18,"u":174},{"i":31,"j":18,"u":178},{"i":32,"j":18,"u":182},{"i":33,"j":18,"u":186},{"i":34,"j":18,"u":190},{"i":35,"j":18,"u":194},{"i":36,"j":18,"u":198},{"i":37,"j":18,"u":202},{"i":38,"j":18,"u":206},{"i":39,"j":18,"u":210},{"i":40,"j":18,"u":214},{"i":41,"j":18,"u":218},{"i":42,"j":18,"u":222},{"i":43,"j":18,"u":226},{"i":44,"j":18,"u":230},{"i":45,"j":18,"u":234},{"i":46,"j":18,"u":238},{"i":47,"j":18,"u":242},{"i":48,"j":18,"u":246},{"i":49,"j":18,"u":250},{"i":50,"j":18,"u":254},{"i":51,"j":18,"u":258},{"i":52,"j":18,"u":262},{"i":53,"j":18,"u":266},{"i":54,"j":18,"u":270},{"i":55,"j":18,"u":274},{"i":56,"j":18,"u":278},{"i":57,"j":18,"u":282},{"i":58,"j":18,"u":286},{"i":59,"j":18,"u":290},
{"i":0,"j":19,"u":57},{"i":1,"j":19,"u":61},{"i":2,"j":19,"u":65},{"i":3,"j":19,"u":69},{"i":4,"j":19,"u":73},{"i":5,"j":19,"u":77},{"i":6,"j":19,"u":81},{"i":7,"j":19,"u":85},{"i":8,"j":19,"u":89},{"i":9,"j":19,"u":93},{"i":10,"j":19,"u":97},{"i":11,"j":19,"u":101},{"i":12,"j":19,"u":105},{"i":13,"j":19,"u":109},{"i":14,"j":19,"u":113},{"i":15,"j":19,"u":117},{"i":16,"j":19,"u":121},{"i":17,"j":19,"u":125},{"i":18,"j":19,"u":129},{"i":19,"j":19,"u":133},{"i":20,"j":19,"u":137},{"i":21,"j":19,"u":141},{"i":22,"j":19,"u":145},{"i":23,"j":19,"u":149},{"i":24,"j":19,"u":153},{"i":25,"j":19,"u":157},{"i":26,"j":19,"u":161},{"i":27,"j":19,"u":165},{"i":28,"j":19,"u":169},{"i":29,"j":19,"u":173},{"i":30,"j":19,"u":177},{"i":31,"j":19,"u":181},{"i":32,"j":19,"u":185},{"i":33,"j":19,"u":189},{"i":34,"j":19,"u":193},{"i":35,"j":19,"u":197},{"i":36,"j":19,"u":201},{"i":37,"j":19,"u":205},{"i":38,"j":19,"u":209},{"i":39,"j":19,"u":213},{"i":40,"j":19,"u":217},{"i":41,"j":19,"u":221},{"i":42,"j":19,"u":225},{"i":43,"j":19,"u":229},{"i":44,"j":19,"u":233},{"i":45,"j":19,"u":237},{"i":46,"j":19,"u":241},{"i":47,"j":19,"u":245},{"i":48,"j":19,"u":249},{"i":49,"j":19,"u":253},{"i":50,"j":19,"u":257},{"i":51,"j":19,"u":261},{"i":52,"j":19,"u":265},{"i":53,"j":19,"u":269},{"i":54,"j":19,"u":273},{"i":55,"j":19,"u":277},{"i":56,"j":19,"u":281},{"i":57,"j":19,"u":285},{"i":58,"j":19,"u":289},{"i":59,"j":19,"u":293},
{"i":0,"j":20,"u":60},{"i":1,"j":20,"u":64},{"i":2,"j":20,"u":68},{"i":3,"j":20,"u":72},{"i":4,"j":20,"u":76},{"i":5,"j":20,"u":80},{"i":6,"j":20,"u":84},{"i":7,"j":20,"u":88},{"i":8,"j":20,"u":92},{"i":9,"j":20,"u":96},{"i":10,"j":20,"u":100},{"i":11,"j":20,"u":104},{"i":12,"j":20,"u":108},{"i":13,"j":20,"u":112},{"i":14,"j":20,"u":116},{"i":15,"j":20,"u":120},{"i":16,"j":20,"u":124},{"i":17,"j":20,"u":128},{"i":18,"j":20,"u":132},{"i":19,"j":20,"u":136},{"i":20,"j":20,"u":140},{"i":21,"j":20,"u":144},{"i":22,"j":20,"u":148},{"i":23,"j":20,"u":152},{"i":24,"j":20,"u":156},{"i":25,"j":20,"u":160},{"i":26,"j":20,"u":164},{"i":27,"j":20,"u":168},{"i":28,"j":20,"u":172},{"i":29,"j":20,"u":176},{"i":30,"j":20,"u":180},{"i":31,"j":20,"u":184},{"i":32,"j":20,"u":188},{"i":33,"j":20,"u":192},{"i":34,"j":20,"u":196},{"i":35,"j":20,"u":200},{"i":36,"j":20,"u":204},{"i":37,"j":20,"u":208},{"i":38,"j":20,"u":212},{"i":39,"j":20,"u":216},{"i":40,"j":20,"u":220},{"i":41,"j":20,"u":224},{"i":42,"j":20,"u":228},{"i":43,"j":20,"u":232},{"i":44,"j":20,"u":236},{"i":45,"j":20,"u":240},{"i":46,"j":20,"u":244},{"i":47,"j":20,"u":248},{"i":48,"j":20,"u":252},{"i":49,"j":20,"u":256},{"i":50,"j":20,"u":260},{"i":51,"j":20,"u":264},{"i":52,"j":20,"u":268},{"i":53,"j":20,"u":272},{"i":54,"j":20,"u":276},{"i":55,"j":20,"u":280},{"i":56,"j":20,"u":284},{"i":57,"j":20,"u":288},{"i":58,"j":20,"u":292},{"i":59,"j":20,"u":296},
{"i":0,"j":21,"u":63},{"i":1,"j":21,"u":67},{"i":2,"j":21,"u":71},{"i":3,"j":21,"u":75},{"i":4,"j":21,"u":79},{"i":5,"j":21,"u":83},{"i":6,"j":21,"u":87},{"i":7,"j":21,"u":91},{"i":8,"j":21,"u":95},{"i":9,"j":21,"u":99},{"i":10,"j":21,"u":103},{"i":11,"j":21,"u":107},{"i":12,"j":21,"u":111},{"i":13,"j":21,"u":115},{"i":14,"j":21,"u":119},{"i":15,"j":21,"u":123},{"i":16,"j":21,"u":127},{"i":17,"j":21,"u":131},{"i":18,"j":21,"u":135},{"i":19,"j":21,"u":139},{"i":20,"j":21,"u":143},{"i":21,"j":21,"u":147},{"i":22,"j":21,"u":151},{"i":23,"j":21,"u":155},{"i":24,"j":21,"u":159},{"i":25,"j":21,"u":163},{"i":26,"j":21,"u":167},{"i":27,"j":21,"u":171},{"i":28,"j":21,"u":175},{"i":29,"j":21,"u":179},{"i":30,"j":21,"u":183},{"i":31,"j":21,"u":187},{"i":32,"j":21,"u":191},{"i":33,"j":21,"u":195},{"i":34,"j":21,"u":199},{"i":35,"j":21,"u":203},{"i":36,"j":21,"u":207},{"i":37,"j":21,"u":211},{"i":38,"j":21,"u":215},{"i":39,"j":21,"u":219},{"i":40,"j":21,"u":223},{"i":41,"j":21,"u":227},{"i":42,"j":21,"u":231},{"i":43,"j":21,"u":235},{"i":44,"j":21,"u":239},{"i":45,"j":21,"u":243},{"i":46,"j":21,"u":247},{"i":47,"j":21,"u":251},{"i":48,"j":21,"u":255},{"i":49,"j":21,"u":259},{"i":50,"j":21,"u":263},{"i":51,"j":21,"u":267},{"i":52,"j":21,"u":271},{"i":53,"j":21,"u":275},{"i":54,"j":21,"u":279},{"i":55,"j":21,"u":283},{"i":56,"j":21,"u":287},{"i":57,"j":21,"u":291},{"i":58,"j":21,"u":295},{"i":59,"j":21,"u":299},
{"i":0,"j":22,"u":66},{"i":1,"j":22,"u":70},{"i":2,"j":22,"u":74},{"i":3,"j":22,"u":78},{"i":4,"j":22,"u":82},{"i":5,"j":22,"u":86},{"i":6,"j":22,"u":90},{"i":7,"j":22,"u":94},{"i":8,"j":22,"u":98},{"i":9,"j":22,"u":102},{"i":10,"j":22,"u":106},{"i":11,"j":22,"u":110},{"i":12,"j":22,"u":114},{"i":13,"j":22,"u":118},{"i":14,"j":22,"u":122},{"i":15,"j":22,"u":126},{"i":16,"j":22,"u":130},{"i":17,"j":22,"u":134},{"i":18,"j":22,"u":138},{"i":19,"j":22,"u":142},{"i":20,"j":22,"u":146},{"i":21,"j":22,"u":150},{"i":22,"j":22,"u":154},{"i":23,"j":22,"u":158},{"i":24,"j":22,"u":162},{"i":25,"j":22,"u":166},{"i":26,"j":22,"u":170},{"i":27,"j":22,"u":174},{"i":28,"j":22,"u":178},{"i":29,"j":22,"u":182},{"i":30,"j":22,"u":186},{"i":31,"j":22,"u":190},{"i":32,"j":22,"u":194},{"i":33,"j":22,"u":198},{"i":34,"j":22,"u":202},{"i":35,"j":22,"u":206},{"i":36,"j":22,"u":210},{"i":37,"j":22,"u":214},{"i":38,"j":22,"u":218},{"i":39,"j":22,"u":222},{"i":40,"j":22,"u":226},{"i":41,"j":22,"u":230},{"i":42,"j":22,"u":234},{"i":43,"j":22,"u":238},{"i":44,"j":22,"u":242},{"i":45,"j":22,"u":246},{"i":46,"j":22,"u":250},{"i":47,"j":22,"u":254},{"i":48,"j":22,"u":258},{"i":49,"j":22,"u":262},{"i":50,"j":22,"u":266},{"i":51,"j":22,"u":270},{"i":52,"j":22,"u":274},{"i":53,"j":22,"u":278},{"i":54,"j":22,"u":282},{"i":55,"j":22,"u":286},{"i":56,"j":22,"u":290},{"i":57,"j":22,"u":294},{"i":58,"j":22,"u":298},{"i":59,"j":22,"u":302},
{"i":0,"j":23,"u":69},{"i":1,"j":23,"u":73},{"i":2,"j":23,"u":77},{"i":3,"j":23,"u":81},{"i":4,"j":23,"u":85},{"i":5,"j":23,"u":89},{"i":6,"j":23,"u":93},{"i":7,"j":23,"u":97},{"i":8,"j":23,"u":101},{"i":9,"j":23,"u":105},{"i":10,"j":23,"u":109},{"i":11,"j":23,"u":113},{"i":12,"j":23,"u":117},{"i":13,"j":23,"u":121},{"i":14,"j":23,"u":125},{"i":15,"j":23,"u":129},{"i":16,"j":23,"u":133},{"i":17,"j":23,"u":137},{"i":18,"j":23,"u":141},{"i":19,"j":23,"u":145},{"i":20,"j":23,"u":149},{"i":21,"j":23,"u":153},{"i":22,"j":23,"u":157},{"i":23,"j":23,"u":161},{"i":24,"j":23,"u":165},{"i":25,"j":23,"u":169},{"i":26,"j":23,"u":173},{"i":27,"j":23,"u":177},{"i":28,"j":23,"u":181},{"i":29,"j":23,"u":185},{"i":30,"j":23,"u":189},{"i":31,"j":23,"u":193},{"i":32,"j":23,"u":197},{"i":33,"j":23,"u":201},{"i":34,"j":23,"u":205},{"i":35,"j":23,"u":209},{"i":36,"j":23,"u":213},{"i":37,"j":23,"u":217},{"i":38,"j":23,"u":221},{"i":39,"j":23,"u":225},{"i":40,"j":23,"u":229},{"i":41,"j":23,"u":233},{"i":42,"j":23,"u":237},{"i":43,"j":23,"u":241},{"i":44,"j":23,"u":245},{"i":45,"j":23,"u":249},{"i":46,"j":23,"u":253},{"i":47,"j":23,"u":257},{"i":48,"j":23,"u":261},{"i":49,"j":23,"u":265},{"i":50,"j":23,"u":269},{"i":51,"j":23,"u":273},{"i":52,"j":23,"u":277},{"i":53,"j":23,"u":281},{"i":54,"j":23,"u":285},{"i":55,"j":23,"u":289},{"i":56,"j":23,"u":293},{"i":57,"j":23,"u":297},{"i":58,"j":23,"u":301},{"i":59,"j":23,"u":305},
{"i":0,"j":24,"u":72},{"i":1,"j":24,"u":76},{"i":2,"j":24,"u":80},{"i":3,"j":24,"u":84},{"i":4,"j":24,"u":88},{"i":5,"j":24,"u":92},{"i":6,"j":24,"u":96},{"i":7,"j":24,"u":100},{"i":8,"j":24,"u":104},{"i":9,"j":24,"u":108},{"i":10,"j":24,"u":112},{"i":11,"j":24,"u":116},{"i":12,"j":24,"u":120},{"i":13,"j":24,"u":124},{"i":14,"j":24,"u":128},{"i":15,"j":24,"u":132},{"i":16,"j":24,"u":136},{"i":17,"j":24,"u":140},{"i":18,"j":24,"u":144},{"i":19,"j":24,"u":148},{"i":20,"j":24,"u":152},{"i":21,"j":24,"u":156},{"i":22,"j":24,"u":160},{"i":23,"j":24,"u":164},{"i":24,"j":24,"u":168},{"i":25,"j":24,"u":172},{"i":26,"j":24,"u":176},{"i":27,"j":24,"u":180},{"i":28,"j":24,"u":184},{"i":29,"j":24,"u":188},{"i":30,"j":24,"u":192},{"i":31,"j":24,"u":196},{"i":32,"j":24,"u":200},{"i":33,"j":24,"u":204},{"i":34,"j":24,"u":208},{"i":35,"j":24,"u":212},{"i":36,"j":24,"u":216},{"i":37,"j":24,"u":220},{"i":38,"j":24,"u":224},{"i":39,"j":24,"u":228},{"i":40,"j":24,"u":232},{"i":41,"j":24,"u":236},{"i":42,"j":24,"u":240},{"i":43,"j":24,"u":244},{"i":44,"j":24,"u":248},{"i":45,"j":24,"u":252},{"i":46,"j":24,"u":256},{"i":47,"j":24,"u":260},{"i":48,"j":24,"u":264},{"i":49,"j":24,"u":268},{"i":50,"j":24,"u":272},{"i":51,"j":24,"u":276},{"i":52,"j":24,"u":280},{"i":53,"j":24,"u":284},{"i":54,"j":24,"u":288},{"i":55,"j":24,"u":292},{"i":56,"j":24,"u":296},{"i":57,"j":24,"u":300},{"i":58,"j":24,"u":304},{"i":59,"j":24,"u":308},
{"i":0,"j":25,"u":75},{"i":1,"j":25,"u":79},{"i":2,"j":25,"u":83},{"i":3,"j":25,"u":87},{"i":4,"j":25,"u":91},{"i":5,"j":25,"u":95},{"i":6,"j":25,"u":99},{"i":7,"j":25,"u":103},{"i":8,"j":25,"u":107},{"i":9,"j":25,"u":111},{"i":10,"j":25,"u":115},{"i":11,"j":25,"u":119},{"i":12,"j":25,"u":123},{"i":13,"j":25,"u":127},{"i":14,"j":25,"u":131},{"i":15,"j":25,"u":135},{"i":16,"j":25,"u":139},{"i":17,"j":25,"u":143},{"i":18,"j":25,"u":147},{"i":19,"j":25,"u":151},{"i":20,"j":25,"u":155},{"i":21,"j":25,"u":159},{"i":22,"j":25,"u":163},{"i":23,"j":25,"u":167},{"i":24,"j":25,"u":171},{"i":25,"j":25,"u":175},{"i":26,"j":25,"u":179},{"i":27,"j":25,"u":183},{"i":28,"j":25,"u":187},{"i":29,"j":25,"u":191},{"i":30,"j":25,"u":195},{"i":31,"j":25,"u":199},{"i":32,"j":25,"u":203},{"i":33,"j":25,"u":207},{"i":34,"j":25,"u":211},{"i":35,"j":25,"u":215},{"i":36,"j":25,"u":219},{"i":37,"j":25,"u":223},{"i":38,"j":25,"u":227},{"i":39,"j":25,"u":231},{"i":40,"j":25,"u":235},{"i":41,"j":25,"u":239},{"i":42,"j":25,"u":243},{"i":43,"j":25,"u":247},{"i":44,"j":25,"u":251},{"i":45,"j":25,"u":255},{"i":46,"j":25,"u":259},{"i":47,"j":25,"u":263},{"i":48,"j":25,"u":267},{"i":49,"j":25,"u":271},{"i":50,"j":25,"u":275},{"i":51,"j":25,"u":279},{"i":52,"j":25,"u":283},{"i":53,"j":25,"u":287},{"i":54,"j":25,"u":291},{"i":55,"j":25,"u":295},{"i":56,"j":25,"u":299},{"i":57,"j":25,"u":303},{"i":58,"j":25,"u":307},{"i":59,"j":25,"u":311},
{"i":0,"j":26,"u":78},{"i":1,"j":26,"u":82},{"i":2,"j":26,"u":86},{"i":3,"j":26,"u":90},{"i":4,"j":26,"u":94},{"i":5,"j":26,"u":98},{"i":6,"j":26,"u":102},{"i":7,"j":26,"u":106},{"i":8,"j":26,"u":110},{"i":9,"j":26,"u":114},{"i":10,"j":26,"u":118},{"i":11,"j":26,"u":122},{"i":12,"j":26,"u":126},{"i":13,"j":26,"u":130},{"i":14,"j":26,"u":134},{"i":15,"j":26,"u":138},{"i":16,"j":26,"u":142},{"i":17,"j":26,"u":146},{"i":18,"j":26,"u":150},{"i":19,"j":26,"u":154},{"i":20,"j":26,"u":158},{"i":21,"j":26,"u":162},{"i":22,"j":26,"u":166},{"i":23,"j":26,"u":170},{"i":24,"j":26,"u":174},{"i":25,"j":26,"u":178},{"i":26,"j":26,"u":182},{"i":27,"j":26,"u":186},{"i":28,"j":26,"u":190},{"i":29,"j":26,"u":194},{"i":30,"j":26,"u":198},{"i":31,"j":26,"u":202},{"i":32,"j":26,"u":206},{"i":33,"j":26,"u":210},{"i":34,"j":26,"u":214},{"i":35,"j":26,"u":218},{"i":36,"j":26,"u":222},{"i":37,"j":26,"u":226},{"i":38,"j":26,"u":230},{"i":39,"j":26,"u":234},{"i":40,"j":26,"u":238},{"i":41,"j":26,"u":242},{"i":42,"j":26,"u":246},{"i":43,"j":26,"u":250},{"i":44,"j":26,"u":254},{"i":45,"j":26,"u":258},{"i":46,"j":26,"u":262},{"i":47,"j":26,"u":266},{"i":48,"j":26,"u":270},{"i":49,"j":26,"u":274},{"i":50,"j":26,"u":278},{"i":51,"j":26,"u":282},{"i":52,"j":26,"u":286},{"i":53,"j":26,"u":290},{"i":54,"j":26,"u":294},{"i":55,"j":26,"u":298},{"i":56,"j":26,"u":302},{"i":57,"j":26,"u":306},{"i":58,"j":26,"u":310},{"i":59,"j":26,"u":314},
{"i":0,"j":27,"u":81},{"i":1,"j":27,"u":85},{"i":2,"j":27,"u":89},{"i":3,"j":27,"u":93},{"i":4,"j":27,"u":97},{"i":5,"j":27,"u":101},{"i":6,"j":27,"u":105},{"i":7,"j":27,"u":109},{"i":8,"j":27,"u":113},{"i":9,"j":27,"u":117},{"i":10,"j":27,"u":121},{"i":11,"j":27,"u":125},{"i":12,"j":27,"u":129},{"i":13,"j":27,"u":133},{"i":14,"j":27,"u":137},{"i":15,"j":27,"u":141},{"i":16,"j":27,"u":145},{"i":17,"j":27,"u":149},{"i":18,"j":27,"u":153},{"i":19,"j":27,"u":157},{"i":20,"j":27,"u":161},{"i":21,"j":27,"u":165},{"i":22,"j":27,"u":169},{"i":23,"j":27,"u":173},{"i":24,"j":27,"u":177},{"i":25,"j":27,"u":181},{"i":26,"j":27,"u":185},{"i":27,"j":27,"u":189},{"i":28,"j":27,"u":193},{"i":29,"j":27,"u":197},{"i":30,"j":27,"u":201},{"i":31,"j":27,"u":205},{"i":32,"j":27,"u":209},{"i":33,"j":27,"u":213},{"i":34,"j":27,"u":217},{"i":35,"j":27,"u":221},{"i":36,"j":27,"u":225},{"i":37,"j":27,"u":229},{"i":38,"j":27,"u":233},{"i":39,"j":27,"u":237},{"i":40,"j":27,"u":241},{"i":41,"j":27,"u":245},{"i":42,"j":27,"u":249},{"i":43,"j":27,"u":253},{"i":44,"j":27,"u":257},{"i":45,"j":27,"u":261},{"i":46,"j":27,"u":265},{"i":47,"j":27,"u":269},{"i":48,"j":27,"u":273},{"i":49,"j":27,"u":277},{"i":50,"j":27,"u":281},{"i":51,"j":27,"u":285},{"i":52,"j":27,"u":289},{"i":53,"j":27,"u":293},{"i":54,"j":27,"u":297},{"i":55,"j":27,"u":301},{"i":56,"j":27,"u":305},{"i":57,"j":27,"u":309},{"i":58,"j":27,"u":313},{"i":59,"j":27,"u":317},
{"i":0,"j":28,"u":84},{"i":1,"j":28,"u":88},{"i":2,"j":28,"u":92},{"i":3,"j":28,"u":96},{"i":4,"j":28,"u":100},{"i":5,"j":28,"u":104},{"i":6,"j":28,"u":108},{"i":7,"j":28,"u":112},{"i":8,"j":28,"u":116},{"i":9,"j":28,"u":120},{"i":10,"j":28,"u":124},{"i":11,"j":28,"u":128},{"i":12,"j":28,"u":132},{"i":13,"j":28,"u":136},{"i":14,"j":28,"u":140},{"i":15,"j":28,"u":144},{"i":16,"j":28,"u":148},{"i":17,"j":28,"u":152},{"i":18,"j":28,"u":156},{"i":19,"j":28,"u":160},{"i":20,"j":28,"u":164},{"i":21,"j":28,"u":168},{"i":22,"j":28,"u":172},{"i":23,"j":28,"u":176},{"i":24,"j":28,"u":180},{"i":25,"j":28,"u":184},{"i":26,"j":28,"u":188},{"i":27,"j":28,"u":192},{"i":28,"j":28,"u":196},{"i":29,"j":28,"u":200},{"i":30,"j":28,"u":204},{"i":31,"j":28,"u":208},{"i":32,"j":28,"u":212},{"i":33,"j":28,"u":216},{"i":34,"j":28,"u":220},{"i":35,"j":28,"u":224},{"i":36,"j":28,"u":228},{"i":37,"j":28,"u":232},{"i":38,"j":28,"u":236},{"i":39,"j":28,"u":240},{"i":40,"j":28,"u":244},{"i":41,"j":28,"u":248},{"i":42,"j":28,"u":252},{"i":43,"j":28,"u":256},{"i":44,"j":28,"u":260},{"i":45,"j":28,"u":264},{"i":46,"j":28,"u":268},{"i":47,"j":28,"u":272},{"i":48,"j":28,"u":276},{"i":49,"j":28,"u":280},{"i":50,"j":28,"u":284},{"i":51,"j":28,"u":288},{"i":52,"j":28,"u":292},{"i":53,"j":28,"u":296},{"i":54,"j":28,"u":300},{"i":55,"j":28,"u":304},{"i":56,"j":28,"u":308},{"i":57,"j":28,"u":312},{"i":58,"j":28,"u":316},{"i":59,"j":28,"u":320},
{"i":0,"j":29,"u":87},{"i":1,"j":29,"u":91},{"i":2,"j":29,"u":95},{"i":3,"j":29,"u":99},{"i":4,"j":29,"u":103},{"i":5,"j":29,"u":107},{"i":6,"j":29,"u":111},{"i":7,"j":29,"u":115},{"i":8,"j":29,"u":119},{"i":9,"j":29,"u":123},{"i":10,"j":29,"u":127},{"i":11,"j":29,"u":131},{"i":12,"j":29,"u":135},{"i":13,"j":29,"u":139},{"i":14,"j":29,"u":143},{"i":15,"j":29,"u":147},{"i":16,"j":29,"u":151},{"i":17,"j":29,"u":155},{"i":18,"j":29,"u":159},{"i":19,"j":29,"u":163},{"i":20,"j":29,"u":167},{"i":21,"j":29,"u":171},{"i":22,"j":29,"u":175},{"i":23,"j":29,"u":179},{"i":24,"j":29,"u":183},{"i":25,"j":29,"u":187},{"i":26,"j":29,"u":191},{"i":27,"j":29,"u":195},{"i":28,"j":29,"u":199},{"i":29,"j":29,"u":203},{"i":30,"j":29,"u":207},{"i":31,"j":29,"u":211},{"i":32,"j":29,"u":215},{"i":33,"j":29,"u":219},{"i":34,"j":29,"u":223},{"i":35,"j":29,"u":227},{"i":36,"j":29,"u":231},{"i":37,"j":29,"u":235},{"i":38,"j":29,"u":239},{"i":39,"j":29,"u":243},{"i":40,"j":29,"u":247},{"i":41,"j":29,"u":251},{"i":42,"j":29,"u":255},{"i":43,"j":29,"u":259},{"i":44,"j":29,"u":263},{"i":45,"j":29,"u":267},{"i":46,"j":29,"u":271},{"i":47,"j":29,"u":275},{"i":48,"j":29,"u":279},{"i":49,"j":29,"u":283},{"i":50,"j":29,"u":287},{"i":51,"j":29,"u":291},{"i":52,"j":29,"u":295},{"i":53,"j":29,"u":299},{"i":54,"j":29,"u":303},{"i":55,"j":29,"u":307},{"i":56,"j":29,"u":311},{"i":57,"j":29,"u":315},{"i":58,"j":29,"u":319},{"i":59,"j":29,"u":323}
]},
"mark": {"type": "circle", "opacity": 1},
"encoding": {
  "x": {"field": "i", "type": "quantitative", "scale": {"domain": [-0.91, 59.92], "nice": false, "zero": false}, "axis": null},
  "y": {"field": "j", "type": "quantitative", "scale": {"domain": [-1.226, 30.054], "nice": false, "zero": false}, "axis": null},
  "size": {"field": "u", "type": "quantitative", "scale": {"type": "pow", "exponent": 2, "domain": [0, 323], "range": [130, 420], "zero": false}, "legend": null},
  "color": {"field": "u", "type": "quantitative", "scale": {"domain": [0, 87, 165, 236, 323], "range": ["#3e5b8d", "#5e4870", "#6e3f5e", "#8d3a4c", "#bf3a35"]}, "legend": null}
}
}
